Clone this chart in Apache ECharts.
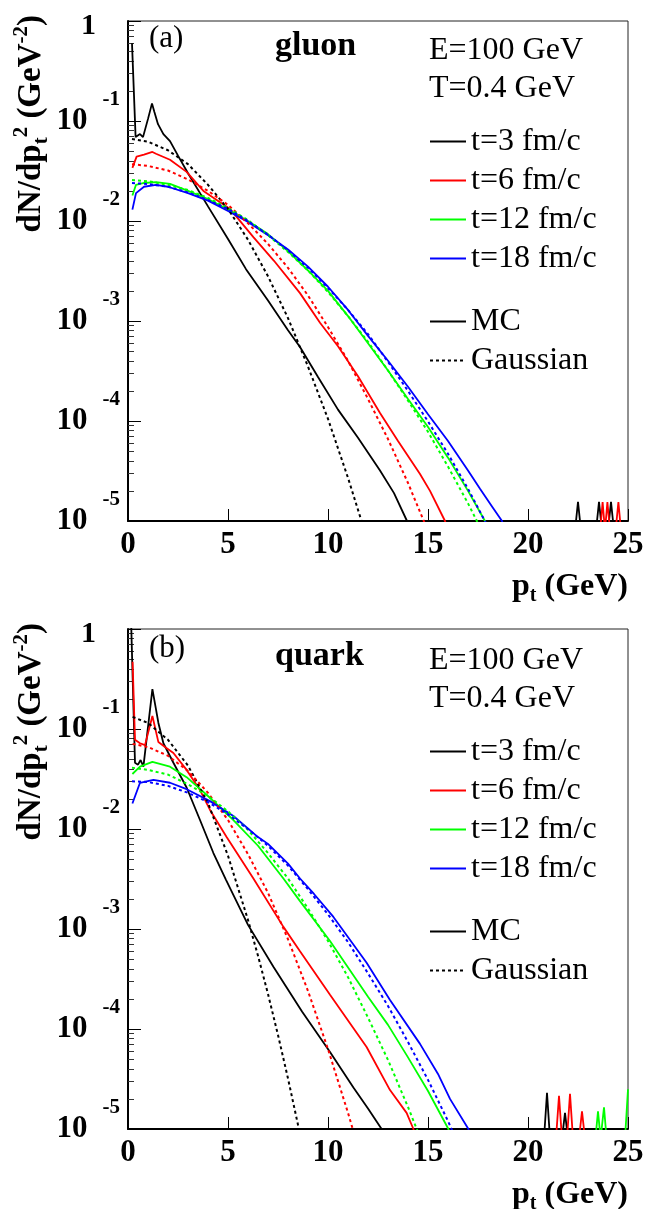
<!DOCTYPE html>
<html><head><meta charset="utf-8">
<script src="https://cdn.jsdelivr.net/npm/echarts@6/dist/echarts.min.js"></script>
<style>html,body{margin:0;padding:0;background:#fff}#c{width:647px;height:1209px}</style>
</head><body><div id="c"></div>
<script>
// ---------- data: [pt (GeV), dN/dpt^2 (GeV^-2)] ; 0 = empty bin ----------
const tLabels = ['t=3 fm/c', 't=6 fm/c', 't=12 fm/c', 't=18 fm/c'];
const styleLabels = ['MC', 'Gaussian'];
const yMajorTicks = [1e-5, 1e-4, 1e-3, 1e-2, 1e-1, 1];

// (a) gluon
const gluonMC_t3 = [[0.2,6.0e-1],[0.38,6.9e-2],[0.48,6.8e-2],[0.6,7.4e-2],[0.75,6.9e-2],[1.0,1.05e-1],[1.2,1.5e-1],[1.32,1.23e-1],[1.5,9.3e-2],[1.77,7.4e-2],[2.1,6.3e-2],[2.5,4.5e-2],[3,3.0e-2],[4,1.4e-2],[5,6.6e-3],[5.9,3.3e-3],[7,1.6e-3],[8,8.1e-4],[8.6,5.5e-4],[9.5,2.75e-4],[10.5,1.3e-4],[11.5,6.8e-5],[12.6,3.2e-5],[13.3,1.9e-5],[13.95,1.0e-5],[14.1,0],[22.35,0],[22.5,1.55e-5],[22.65,0],[23.4,0],[23.55,1.55e-5],[23.7,0],[24.0,0],[24.15,1.55e-5],[24.3,0],[25,0]];
const gluonMC_t6 = [[0.22,3.4e-2],[0.43,4.4e-2],[0.8,4.6e-2],[1.22,4.9e-2],[1.4,4.7e-2],[2.1,4.1e-2],[2.93,3.1e-2],[3.77,2.0e-2],[5.1,1.32e-2],[6.27,6.9e-3],[7.3,4.0e-3],[8.6,1.9e-3],[9.6,9.6e-4],[10.5,5.6e-4],[11.5,2.8e-4],[12.6,1.2e-4],[13.5,6.3e-5],[14.6,2.95e-5],[15.1,2.0e-5],[15.85,1.0e-5],[16.0,0],[23.61,0],[23.73,1.55e-5],[23.85,0],[23.97,1.55e-5],[24.1,0],[24.38,0],[24.52,1.55e-5],[24.65,0],[25,0]];
const gluonMC_t12 = [[0.22,1.8e-2],[0.4,2.3e-2],[0.8,2.4e-2],[1.4,2.45e-2],[2.1,2.35e-2],[3,2.0e-2],[4,1.66e-2],[5,1.3e-2],[6,1.0e-2],[7,7.4e-3],[8,5.0e-3],[9,3.2e-3],[10,2.0e-3],[11,1.12e-3],[12,6.0e-4],[13,3.2e-4],[14,1.66e-4],[15,8.7e-5],[16,4.3e-5],[17,2.0e-5],[17.85,1.0e-5],[18.0,0],[25,0]];
const gluonMC_t18 = [[0.22,1.3e-2],[0.4,1.9e-2],[0.8,2.2e-2],[1.4,2.3e-2],[2,2.2e-2],[3,1.9e-2],[4,1.6e-2],[5,1.26e-2],[6,9.8e-3],[7,7.2e-3],[8,5.2e-3],[9,3.5e-3],[10,2.2e-3],[11,1.29e-3],[12,7.1e-4],[13,4.0e-4],[14,2.2e-4],[15,1.17e-4],[16,6.3e-5],[17,3.2e-5],[17.6,2.1e-5],[18.2,1.4e-5],[18.7,1.0e-5],[18.85,0],[25,0]];
const gluonGaus_t3 = [[0.2,6.6e-2],[1,6.2e-2],[2,5.1e-2],[3,3.7e-2],[4,2.3e-2],[5,1.32e-2],[6,6.5e-3],[7,2.8e-3],[8,1.07e-3],[9,3.5e-4],[10,1.05e-4],[11,2.7e-5],[12,6.2e-6]];
const gluonGaus_t6 = [[0.2,3.7e-2],[1,3.55e-2],[2,3.2e-2],[3,2.6e-2],[4,2.0e-2],[5,1.45e-2],[6,9.5e-3],[7,5.9e-3],[8,3.4e-3],[9,1.8e-3],[10,8.7e-4],[11,4.0e-4],[12,1.66e-4],[13,6.6e-5],[14,2.4e-5],[15,7.9e-6]];
const gluonGaus_t12 = [[0.2,2.57e-2],[1,2.5e-2],[2,2.3e-2],[3,2.04e-2],[4,1.7e-2],[5,1.35e-2],[6,1.02e-2],[7,7.2e-3],[8,4.9e-3],[9,3.2e-3],[10,1.95e-3],[11,1.12e-3],[12,6.2e-4],[13,3.2e-4],[14,1.6e-4],[15,7.8e-5],[16,3.5e-5],[17,1.5e-5],[18,6.0e-6]];
const gluonGaus_t18 = [[0.2,2.4e-2],[1,2.34e-2],[2,2.2e-2],[3,1.93e-2],[4,1.62e-2],[5,1.32e-2],[6,1.0e-2],[7,7.3e-3],[8,5.1e-3],[9,3.4e-3],[10,2.14e-3],[11,1.29e-3],[12,7.4e-4],[13,3.9e-4],[14,2.0e-4],[15,9.9e-5],[16,4.7e-5],[17,2.1e-5],[18,8.7e-6]];

// (b) quark
const quarkMC_t3 = [[0.15,1.3],[0.35,4.6e-2],[0.5,4.4e-2],[0.63,4.9e-2],[0.77,4.2e-2],[1.22,2.5e-1],[1.52,1.15e-1],[1.77,7.2e-2],[2.27,4.6e-2],[2.93,2.6e-2],[3.6,1.23e-2],[4.27,5.75e-3],[4.9,3.1e-3],[6.0,1.1e-3],[7.27,4.2e-4],[8.7,1.5e-4],[10.1,5.9e-5],[11.27,2.6e-5],[12.0,1.6e-5],[12.68,1.0e-5],[12.85,0],[20.8,0],[20.95,2.3e-5],[21.1,0],[21.7,0],[21.85,1.45e-5],[22.0,0],[25,0]];
const quarkMC_t6 = [[0.23,4.7e-1],[0.35,7.8e-2],[0.6,7.2e-2],[0.85,6.9e-2],[1.22,1.35e-1],[1.52,7.4e-2],[1.85,6.6e-2],[2.27,5.75e-2],[2.93,3.9e-2],[3.6,2.45e-2],[4.1,1.55e-2],[4.93,8.3e-3],[6.27,3.2e-3],[7.77,1.05e-3],[8.6,6.0e-4],[10.1,2.2e-4],[11.93,6.6e-5],[13.1,2.45e-5],[13.93,1.45e-5],[14.27,1.0e-5],[14.4,0],[21.4,0],[21.55,2.15e-5],[21.7,0],[21.95,0],[22.1,2.25e-5],[22.25,0],[22.55,0],[22.7,1.5e-5],[22.85,0],[25,0]];
const quarkMC_t12 = [[0.22,3.55e-2],[0.6,4.2e-2],[1.22,4.7e-2],[2.1,4.2e-2],[2.93,3.3e-2],[3.93,2.2e-2],[5.27,1.23e-2],[6.5,6.8e-3],[7.77,3.2e-3],[8.6,1.9e-3],[10.1,7.6e-4],[12,2.1e-4],[13,1.1e-4],[14,5.2e-5],[15,2.4e-5],[16.02,1.0e-5],[16.15,0],[23.37,0],[23.5,1.5e-5],[23.63,0],[23.67,0],[23.8,1.65e-5],[23.93,0],[24.85,0],[25,2.5e-5]];
const quarkMC_t18 = [[0.22,1.8e-2],[0.6,2.9e-2],[1.27,3.1e-2],[2.1,2.9e-2],[2.93,2.5e-2],[4.1,1.9e-2],[5.27,1.35e-2],[6.5,8.3e-3],[7,7.1e-3],[8,4.5e-3],[8.6,3.2e-3],[9.3,2.24e-3],[10.27,1.32e-3],[11.93,4.6e-4],[13.1,1.95e-4],[14.6,7.1e-5],[15.5,3.55e-5],[16.1,2.0e-5],[17.02,1.0e-5],[17.15,0],[25,0]];
const quarkGaus_t3 = [[0.23,1.32e-1],[1,1.15e-1],[2,7.8e-2],[3,4.3e-2],[4,1.82e-2],[5,5.4e-3],[6,1.23e-3],[6.5,5.4e-4],[7,2.24e-4],[7.5,8.7e-5],[8,3.2e-5],[8.5,1.1e-5],[9,3.5e-6]];
const quarkGaus_t6 = [[0.23,7.1e-2],[1,6.6e-2],[2,5.4e-2],[3,3.8e-2],[4,2.3e-2],[5,1.23e-2],[6,5.6e-3],[7,2.3e-3],[8,7.9e-4],[9,2.4e-4],[10,6.3e-5],[11,1.45e-5],[11.5,6.6e-6]];
const quarkGaus_t12 = [[0.2,4.1e-2],[1,3.9e-2],[2,3.5e-2],[3,2.8e-2],[4,2.14e-2],[5,1.5e-2],[6,9.8e-3],[7,5.75e-3],[8,3.2e-3],[9,1.6e-3],[10,7.6e-4],[11,3.3e-4],[12,1.3e-4],[13,4.9e-5],[14,1.66e-5],[15,5.2e-6]];
const quarkGaus_t18 = [[0.2,3.0e-2],[1,2.95e-2],[2,2.7e-2],[3,2.3e-2],[4,1.86e-2],[5,1.4e-2],[6,1.0e-2],[7,6.8e-3],[8,4.3e-3],[9,2.5e-3],[10,1.4e-3],[11,7.4e-4],[12,3.6e-4],[13,1.7e-4],[14,7.4e-5],[15,3.1e-5],[16,1.2e-5],[16.5,7.2e-6]];

// ---------- chart ----------
const SERIF = "'Liberation Serif', 'Times New Roman', Times, serif";
const lineColors = ['#000000', '#ff0000', '#00ff00', '#0000ff'];
const FLOOR = 8e-6; // empty bins drawn below the frame minimum (clipped)
const DOT = [3, 3];

const panels = [
  { mc: [gluonMC_t3, gluonMC_t6, gluonMC_t12, gluonMC_t18], ga: [gluonGaus_t3, gluonGaus_t6, gluonGaus_t12, gluonGaus_t18] },
  { mc: [quarkMC_t3, quarkMC_t6, quarkMC_t12, quarkMC_t18], ga: [quarkGaus_t3, quarkGaus_t6, quarkGaus_t12, quarkGaus_t18] }
];

function mk(name, data, color, dotted, g) {
  return {
    type: 'line', name, xAxisIndex: g, yAxisIndex: 2 * g,
    data: data.map(p => [p[0], p[1] > 0 ? p[1] : FLOOR]),
    symbol: 'none', showSymbol: false, smooth: false, clip: true, animation: false,
    lineStyle: { color, width: dotted ? 2 : 1.8, type: dotted ? DOT : 'solid' },
    itemStyle: { color }, emphasis: { disabled: true }, silent: true, z: dotted ? 3 : 2
  };
}

const series = [];
panels.forEach((p, g) => p.mc.forEach((d, i) => series.push(mk(tLabels[i], d, lineColors[i], false, g))));
panels.forEach((p, g) => p.ga.forEach((d, i) => series.push(mk(tLabels[i], d, lineColors[i], true, g))));
series.push(mk(styleLabels[0], [], '#000000', false, 0));
series.push(mk(styleLabels[1], [], '#000000', true, 0));

const yMinorTicks = [];
for (let e = -5; e < 0; e++) for (let m = 2; m <= 9; m++) yMinorTicks.push(+(m * Math.pow(10, e)).toPrecision(3));

const gridTops = [21, 629];
const PH = 500;
const textShift = [0, 610];

function yLabelFmt(v) {
  const e = Math.round(Math.log10(v));
  return e === 0 ? '{one|1}' : '{b|10}{e|' + e + '}';
}
const yLabelRich = {
  b: { fontFamily: SERIF, fontSize: 31, fontWeight: 'bold', color: '#000', lineHeight: 64, padding: [0, 15, 0, 0] },
  e: { fontFamily: SERIF, fontSize: 21, fontWeight: 'bold', color: '#000', lineHeight: 21, verticalAlign: 'top' },
  one: { fontFamily: SERIF, fontSize: 30, fontWeight: 'bold', color: '#000', lineHeight: 30, padding: [10, 24, 0, 0] }
};

const grids = [], xAxes = [], yAxes = [];
gridTops.forEach((top, g) => {
  grids.push({ left: 128, top, width: 500, height: PH, show: true, borderColor: '#222', borderWidth: 1, backgroundColor: 'transparent', containLabel: false, outerBoundsMode: 'none' });
  xAxes.push({
    type: 'value', gridIndex: g, min: 0, max: 25, interval: 5, position: 'bottom',
    axisLine: { show: true, onZero: false, lineStyle: { color: '#000', width: 2 } },
    axisTick: { show: true, inside: true, length: 12, lineStyle: { color: '#000', width: 1 } },
    minorTick: { show: false }, splitLine: { show: false },
    axisLabel: { show: true, margin: 8, color: '#000', fontFamily: SERIF, fontSize: 31, fontWeight: 'bold', showMinLabel: true, showMaxLabel: true },
    name: '{m|p}{s|t}{m| (GeV)}', nameLocation: 'end', nameGap: 0, nameMoveOverlap: false,
    nameTextStyle: {
      align: 'right', verticalAlign: 'top', padding: [47, 0, 0, 0],
      rich: {
        m: { fontFamily: SERIF, fontSize: 32, fontWeight: 'bold', color: '#000', lineHeight: 38 },
        s: { fontFamily: SERIF, fontSize: 20, fontWeight: 'bold', color: '#000', verticalAlign: 'bottom', lineHeight: 20 }
      }
    }
  });
  yAxes.push({
    type: 'log', logBase: 10, gridIndex: g, min: 1e-5, max: 1, position: 'left', offset: 0,
    axisLine: { show: true, onZero: false, lineStyle: { color: '#000', width: 2 } },
    axisTick: { show: true, inside: true, length: 13, customValues: yMajorTicks, lineStyle: { color: '#000', width: 1 } },
    minorTick: { show: false }, splitLine: { show: false },
    axisLabel: { show: true, customValues: yMajorTicks, margin: 8, formatter: yLabelFmt, rich: yLabelRich, showMinLabel: true, showMaxLabel: true },
    name: '{m|dN/dp}{s|t}{p|2}{m| (GeV}{p|-2}{m|)}', nameLocation: 'end', nameRotate: 90, nameGap: 6, nameMoveOverlap: false,
    nameTextStyle: {
      align: 'right', verticalAlign: 'bottom', padding: [0, 0, 76, 0],
      rich: {
        m: { fontFamily: SERIF, fontSize: 33, fontWeight: 'bold', color: '#000', lineHeight: 41 },
        s: { fontFamily: SERIF, fontSize: 21, fontWeight: 'bold', color: '#000', verticalAlign: 'bottom', lineHeight: 21 },
        p: { fontFamily: SERIF, fontSize: 21, fontWeight: 'bold', color: '#000', verticalAlign: 'top', lineHeight: 21 }
      }
    }
  });
  yAxes.push({
    type: 'log', logBase: 10, gridIndex: g, min: 1e-5, max: 1, position: 'left', offset: 0,
    axisLine: { show: false }, axisLabel: { show: false }, splitLine: { show: false }, minorTick: { show: false },
    axisTick: { show: true, inside: true, length: 6, customValues: yMinorTicks, lineStyle: { color: '#333', width: 1 } }
  });
});

const titles = [], legends = [];
['(a)', '(b)'].forEach((lab, g) => {
  const s = textShift[g];
  titles.push({ text: lab, left: 149, top: 23 + s, padding: 0, textStyle: { fontFamily: SERIF, fontSize: 31, fontWeight: 'normal', color: '#000', lineHeight: 31 } });
  titles.push({ text: g === 0 ? 'gluon' : 'quark', left: 275, top: 29 + s, padding: 0, textStyle: { fontFamily: SERIF, fontSize: 34, fontWeight: 'bold', color: '#000', lineHeight: 34 } });
  titles.push({ text: 'E=100 GeV\nT=0.4 GeV', left: 429, top: 32 + s, padding: 0, textStyle: { fontFamily: SERIF, fontSize: 32, fontWeight: 'normal', color: '#000', lineHeight: 38 } });
  const legBase = { orient: 'vertical', left: 429, padding: 0, itemGap: 0, itemWidth: 36, itemHeight: 14, selectedMode: false,
    itemStyle: { opacity: 0 },
    textStyle: { fontFamily: SERIF, fontSize: 32, color: '#000', lineHeight: 19, padding: [0, 0, 20, 0] } };
  legends.push(Object.assign({}, legBase, { data: tLabels, top: 122 + s }));
  legends.push(Object.assign({}, legBase, { data: styleLabels, top: 302 + s }));
});

const chart = echarts.init(document.getElementById('c'), null, { renderer: 'canvas' });
chart.setOption({
  animation: false,
  backgroundColor: '#ffffff',
  title: titles,
  legend: legends,
  grid: grids,
  xAxis: xAxes,
  yAxis: yAxes,
  series
});
</script>
</body></html>
